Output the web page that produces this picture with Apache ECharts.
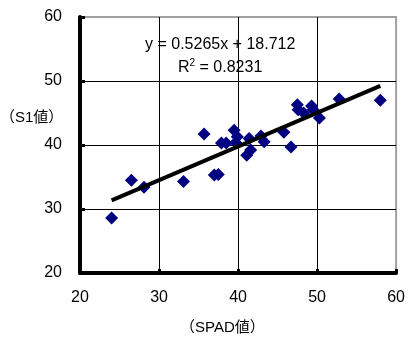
<!DOCTYPE html>
<html>
<head>
<meta charset="utf-8">
<script src="https://cdn.jsdelivr.net/npm/echarts@6/dist/echarts.min.js"></script>
<style>
    html, body { margin: 0; padding: 0; background: #fff; }
    #chart { width: 408px; height: 337px; }
</style>
</head>
<body>
<div id="chart"></div>
<script>
// SPAD value vs S1 value
var spadValues = [24.0, 26.5, 28.1, 33.1, 35.7, 37.0, 37.5, 37.9, 38.5, 39.5, 39.9, 39.7,
    41.4, 41.6, 41.1, 43.3, 42.9, 45.8, 46.7, 47.5, 47.6, 48.3, 49.3, 49.5, 50.3, 52.8, 58.0];
var s1Values = [28.6, 34.5, 33.4, 34.3, 41.7, 35.3, 35.4, 40.3, 40.3, 42.3, 41.3, 40.4,
    41.0, 39.2, 38.4, 40.5, 41.4, 42.0, 39.7, 46.3, 45.5, 45.0, 46.1, 45.5, 44.2, 47.2, 47.0];

var slope = 0.5265;
var intercept = 18.712;
var rSquared = '0.8231';

var xTicks = [20, 30, 40, 50, 60];
var yTicks = [20, 30, 40, 50, 60];

function initChart() {
    var chart = echarts.init(document.getElementById('chart'), null, { renderer: 'canvas' });

    var points = [];
    for (var i = 0; i < spadValues.length; i++) {
        points.push([spadValues[i], s1Values[i]]);
    }
    var xMin = Math.min.apply(null, spadValues);
    var xMax = Math.max.apply(null, spadValues);
    var trend = [
        [xMin, slope * xMin + intercept],
        [xMax, slope * xMax + intercept]
    ];

    var font = 'Liberation Sans, Arial, Noto Sans CJK JP, sans-serif';

    chart.setOption({
        animation: false,
        grid: {
            left: 80, right: 7, top: 17, bottom: 64,
            show: true,
            borderColor: '#a0a0a0',
            borderWidth: 2
        },
        xAxis: {
            type: 'value',
            min: xTicks[0],
            max: xTicks[xTicks.length - 1],
            interval: 10,
            axisLine: { show: true, onZero: false, lineStyle: { color: '#000', width: 4 } },
            axisTick: { show: true, inside: true, length: 4, lineStyle: { color: '#000', width: 3 } },
            axisLabel: { color: '#000', fontSize: 16, fontFamily: font, margin: 17 },
            splitLine: { show: true, showMinLine: false, showMaxLine: false, lineStyle: { color: '#000', width: 1 } }
        },
        yAxis: {
            type: 'value',
            min: yTicks[0],
            max: yTicks[yTicks.length - 1],
            interval: 10,
            axisLine: { show: true, onZero: false, lineStyle: { color: '#000', width: 4 } },
            axisTick: { show: true, inside: true, length: 5, lineStyle: { color: '#000', width: 3 } },
            axisLabel: { color: '#000', fontSize: 16, fontFamily: font, margin: 18 },
            splitLine: { show: true, showMinLine: false, showMaxLine: false, lineStyle: { color: '#000', width: 1 } }
        },
        graphic: [
            {
                type: 'text', left: 145, top: 37,
                style: { text: 'y = 0.5265x + 18.712', fill: '#000', font: '16px ' + font }
            },
            {
                type: 'text', left: 178, top: 58,
                style: {
                    text: '{a|R}{s|2}{a| = ' + rSquared + '}',
                    rich: {
                        a: { fontSize: 16, fontFamily: font, fill: '#000', lineHeight: 20 },
                        s: { fontSize: 10, fontFamily: font, fill: '#000', verticalAlign: 'top', lineHeight: 20, padding: [0, 0, 8, 0] }
                    }
                }
            },
            {
                type: 'text', left: 0, top: 110,
                style: { text: '（S1値）', fill: '#000', font: '15px ' + font }
            },
            {
                type: 'text', left: 180, top: 320,
                style: { text: '（SPAD値）', fill: '#000', font: '15px ' + font }
            }
        ],
        series: [
            {
                type: 'scatter',
                data: points,
                symbol: 'diamond',
                symbolSize: 13,
                itemStyle: { color: '#000080', opacity: 1 },
                z: 3
            },
            {
                type: 'line',
                data: trend,
                showSymbol: false,
                symbol: 'none',
                lineStyle: { color: '#000', width: 4 },
                z: 4
            }
        ]
    });
}

initChart();
</script>
</body>
</html>
